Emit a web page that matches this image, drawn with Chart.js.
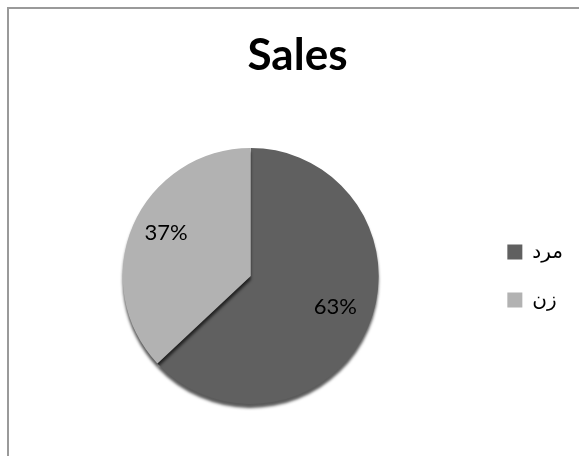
<!DOCTYPE html>
<html>
<head>
<meta charset="utf-8">
<script src="https://cdn.jsdelivr.net/npm/chart.js@4"></script>
<style>
  html, body { margin: 0; padding: 0; background: #fff; overflow: hidden; }
  .frame { position: absolute; left: 7px; top: 7px; width: 600px; height: 480px; border: 2px solid #9a9a9a; }
  .box { position: absolute; left: 0; top: 0; width: 579px; height: 456px; }
</style>
</head>
<body>
<div class="frame"></div>
<div class="box"><canvas id="salesPie"></canvas></div>
<script>
const labels = ['مرد', 'زن']
const values = [63, 37]
const sliceColors = ['#606060', '#b2b2b2']
const titleText = 'Sales'

// percentage labels drawn on each slice
const sliceLabels = {
    id: 'sliceLabels',
    afterDatasetsDraw(chart) {
        const ctx = chart.ctx
        const meta = chart.getDatasetMeta(0)
        const total = values.reduce((a, b) => a + b, 0)
        ctx.save()
        ctx.font = '22px Lato, "DejaVu Sans", sans-serif'
        ctx.fillStyle = '#000'
        ctx.textAlign = 'center'
        ctx.textBaseline = 'middle'
        meta.data.forEach((arc, i) => {
            const { x, y, startAngle, endAngle, outerRadius } = arc.getProps(['x', 'y', 'startAngle', 'endAngle', 'outerRadius'], true)
            const mid = (startAngle + endAngle) / 2
            const r = outerRadius * 0.72
            ctx.fillText(Math.round(values[i] / total * 100) + '%', x + Math.cos(mid) * r, y + Math.sin(mid) * r - 6)
        })
        ctx.restore()
    }
}

// soft shadow under the pie to mimic the 3D rim
const pieShadow = {
    id: 'pieShadow',
    beforeDatasetDraw(chart) {
        const ctx = chart.ctx
        ctx.save()
        ctx.shadowColor = 'rgba(0, 0, 0, 0.65)'
        ctx.shadowBlur = 3
        ctx.shadowOffsetY = 4
    },
    afterDatasetDraw(chart) {
        chart.ctx.restore()
    }
}

new Chart(document.getElementById('salesPie').getContext('2d'), {
    type: 'pie',
    data: {
        labels,
        datasets: [{
            data: values,
            backgroundColor: sliceColors,
            borderWidth: 0,
            radius: 128
        }]
    },
    options: {
        responsive: true,
        maintainAspectRatio: false,
        animation: false,
        layout: { padding: { left: 22, right: 6, top: 0, bottom: 4 } },
        plugins: {
            title: {
                display: true,
                text: titleText,
                color: '#000',
                font: { family: 'Lato, sans-serif', size: 44, weight: 'bold', lineHeight: 1.2 },
                padding: { top: 29, bottom: 18 }
            },
            legend: {
                position: 'right',
                fullSize: false,
                labels: {
                    color: '#000',
                    boxWidth: 15,
                    boxHeight: 15,
                    padding: 28,
                    font: { family: 'Lato, "DejaVu Sans", sans-serif', size: 20 }
                }
            },
            tooltip: { enabled: false }
        }
    },
    plugins: [sliceLabels, pieShadow]
})
</script>
</body>
</html>
